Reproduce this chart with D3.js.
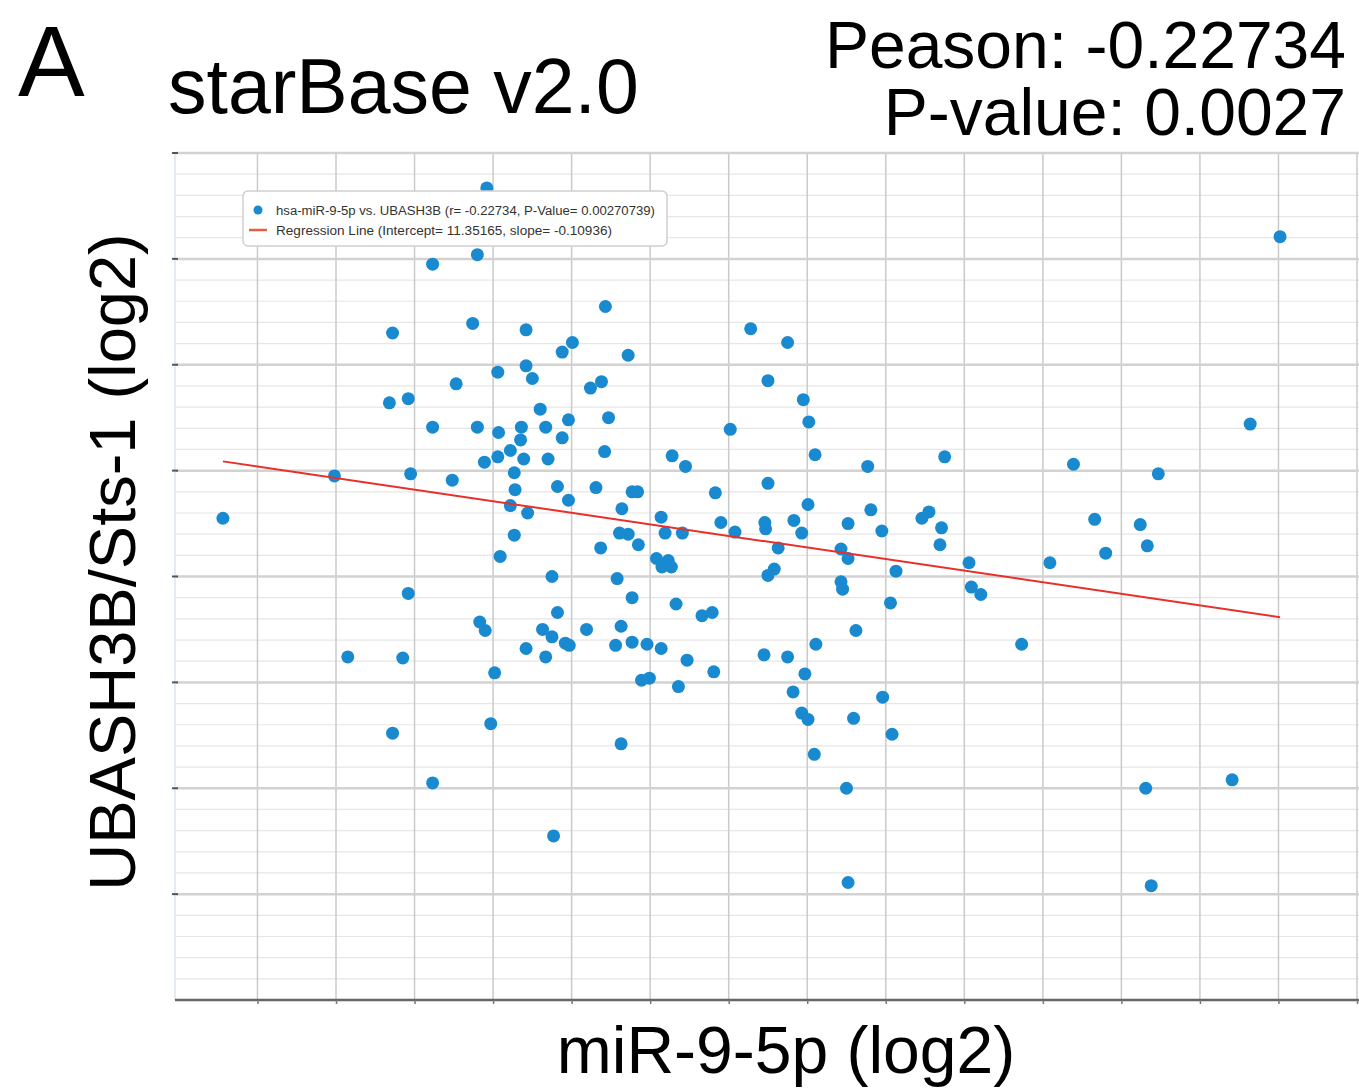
<!DOCTYPE html>
<html>
<head>
<meta charset="utf-8">
<script src="https://cdn.jsdelivr.net/npm/d3@7"></script>
<style>
body { margin: 0; background: #fff; }
text { font-family: "Liberation Sans", Arial, sans-serif; }
</style>
</head>
<body>
<svg class="chart" width="1359" height="1092"></svg>
<script>
"use strict";
// miR-9-5p (log2) values
var xVals = [14.92,14.80,14.23,14.74,15.42,13.72,16.01,15.88,15.06,15.42,15.50,14.53,13.92,13.68,15.60,15.96,
	14.23,14.80,15.36,15.67,15.07,15.35,15.88,15.22,15.06,15.39,14.89,15.70,13.95,12.98,14.48,15.27,15.28,15.82,
	15.96,15.22,15.44,11.56,15.27,15.09,16.43,16.72,18.28,18.75,18.50,16.38,16.24,18.95,19.02,16.47,18.02,16.42,
	19.10,17.28,17.45,19.77,20.75,16.31,18.50,16.77,16.84,17.83,19.01,16.64,19.81,20.55,20.46,17.14,17.90,18.46,
	18.83,19.52,20.71,16.61,16.72,17.19,17.41,18.08,18.47,18.93,19.95,20.69,16.37,16.85,18.63,19.43,25.02,24.64,
	22.39,23.47,22.66,23.24,23.33,22.80,15.75,13.92,15.82,14.83,14.90,15.63,15.75,15.92,15.42,15.67,13.15,13.85,
	15.02,14.97,13.72,14.23,15.77,17.08,17.23,17.15,17.27,19.52,18.50,18.58,20.13,16.58,19.43,19.45,16.77,17.33,
	20.06,17.66,17.79,16.19,16.63,19.62,15.97,16.56,16.77,16.96,17.14,19.11,18.45,18.75,17.47,17.81,18.97,16.89,
	16.99,17.36,18.82,19.96,18.93,19.01,19.59,20.08,16.63,19.09,19.50,19.52,21.06,22.09,21.09,21.21,21.73,24.41,
	23.31,23.38];
// UBASH3B/Sts-1 (log2) values
var yVals = [12.67,12.04,11.95,11.39,11.33,11.30,11.21,11.12,10.93,10.99,10.87,10.82,10.68,10.64,10.58,10.48,
	10.41,10.41,10.41,10.41,10.36,10.29,10.31,10.19,10.13,10.11,10.08,10.11,9.97,9.95,9.91,9.98,9.82,9.85,
	9.72,9.67,9.60,9.55,9.39,9.19,11.55,11.09,11.34,11.21,10.85,10.84,10.78,10.67,10.46,10.50,10.39,10.18,
	10.15,10.14,10.04,10.04,10.13,9.84,9.88,9.80,9.80,9.79,9.68,9.64,9.63,9.61,9.55,9.56,9.51,9.51,
	9.53,9.50,9.46,9.41,9.40,9.41,9.41,9.42,9.45,9.41,9.43,9.30,9.27,9.30,9.27,9.26,12.21,10.44,
	10.06,9.97,9.54,9.49,9.29,9.22,9.00,8.84,8.66,8.57,8.49,8.50,8.43,8.37,8.32,8.24,8.24,8.23,
	8.09,7.61,7.52,7.05,6.55,9.17,9.15,9.09,9.09,9.17,9.01,9.07,9.05,8.98,8.95,8.88,8.80,8.74,
	8.75,8.63,8.66,8.50,8.53,8.49,8.35,8.35,8.38,8.36,8.32,8.36,8.26,8.24,8.21,8.10,8.08,8.02,
	8.04,7.96,7.91,7.86,7.71,7.65,7.66,7.51,7.42,7.32,7.00,6.11,9.13,9.13,8.90,8.83,8.36,7.08,
	7.00,6.08];
var intercept = 11.35165;
var slope = -0.10936;
var xGridVals = [12,13,14,15,16,17,18,19,20,21,22,23,24,25,26];
var yMajorVals = [6,7,8,9,10,11,12,13];
var legendLabels = ["hsa-miR-9-5p vs. UBASH3B (r= -0.22734, P-Value= 0.00270739)",
	"Regression Line (Intercept= 11.35165, slope= -0.10936)"];

var svg = d3.select(".chart");
var plotLeft = 175, plotRight = 1357, plotTop = 153, plotBottom = 1000;

var x = d3.scaleLinear().domain([10.95, 26]).range([plotLeft, plotRight]);
var y = d3.scaleLinear().domain([5, 13]).range([plotBottom, plotTop]);

svg.append("rect").attr("width", 1359).attr("height", 1092).attr("fill", "#fff");

// minor horizontal grid (every 0.2)
var yMinor = d3.range(5.2, 13, 0.2).filter(function(d) { return Math.abs(d - Math.round(d)) > 0.05; });
svg.append("g").selectAll("line").data(yMinor).enter().append("line")
	.attr("x1", plotLeft).attr("x2", 1359)
	.attr("y1", function(d) { return y(d); }).attr("y2", function(d) { return y(d); })
	.attr("stroke", "#e6e6e6").attr("stroke-width", 1.2);

// vertical grid
svg.append("g").selectAll("line").data(xGridVals).enter().append("line")
	.attr("x1", function(d) { return x(d); }).attr("x2", function(d) { return x(d); })
	.attr("y1", plotTop).attr("y2", plotBottom)
	.attr("stroke", "#cacaca").attr("stroke-width", 1.5);

// major horizontal grid
svg.append("g").selectAll("line").data(yMajorVals).enter().append("line")
	.attr("x1", plotLeft).attr("x2", 1359)
	.attr("y1", function(d) { return y(d); }).attr("y2", function(d) { return y(d); })
	.attr("stroke", "#d2d2d2").attr("stroke-width", 2.5);

// left axis (faint) with small ticks
svg.append("line").attr("x1", plotLeft).attr("x2", plotLeft).attr("y1", plotTop).attr("y2", plotBottom)
	.attr("stroke", "#e4ebf3").attr("stroke-width", 2);
svg.append("g").selectAll("line").data(yMajorVals).enter().append("line")
	.attr("x1", plotLeft - 3).attr("x2", plotLeft + 3)
	.attr("y1", function(d) { return y(d); }).attr("y2", function(d) { return y(d); })
	.attr("stroke", "#555").attr("stroke-width", 2);

// bottom axis
var xAxis = d3.axisBottom(x).tickValues(xGridVals).tickSize(4).tickFormat("");
var gx = svg.append("g").attr("transform", "translate(0," + plotBottom + ")").call(xAxis);
gx.select(".domain").attr("stroke", "#666").attr("stroke-width", 2.5).attr("d", "M" + plotLeft + ",0H1359");
gx.selectAll(".tick line").attr("stroke", "#777").attr("stroke-width", 1.5);

// points
svg.append("g").selectAll("circle").data(xVals).enter().append("circle")
	.attr("cx", function(d) { return x(d); })
	.attr("cy", function(d, i) { return y(yVals[i]); })
	.attr("r", 6.5)
	.attr("fill", "#1a8ad0");

// regression line over the data range
var xMin = d3.min(xVals), xMax = d3.max(xVals);
svg.append("line")
	.attr("x1", x(xMin)).attr("y1", y(intercept + slope * xMin))
	.attr("x2", x(xMax)).attr("y2", y(intercept + slope * xMax))
	.attr("stroke", "#e8302a").attr("stroke-width", 2);

// legend
var lg = svg.append("g").attr("transform", "translate(243,191)");
lg.append("rect").attr("width", 424).attr("height", 55).attr("rx", 5)
	.attr("fill", "#fff").attr("stroke", "#cfcfcf").attr("stroke-width", 1.5);
lg.append("circle").attr("cx", 15).attr("cy", 19).attr("r", 4.5).attr("fill", "#1a8ad0");
lg.append("line").attr("x1", 6).attr("x2", 24).attr("y1", 39).attr("y2", 39)
	.attr("stroke", "#e06040").attr("stroke-width", 2.5);
lg.selectAll("text.lab").data(legendLabels).enter().append("text")
	.attr("class", "lab")
	.attr("x", 33)
	.attr("y", function(d, i) { return 24 + i * 20; })
	.attr("font-size", 12.5)
	.attr("fill", "#333")
	.attr("textLength", function(d, i) { return i == 0 ? 379 : 336; })
	.attr("lengthAdjust", "spacingAndGlyphs")
	.text(function(d) { return d; });

// titles and labels
svg.append("text").attr("x", 18).attr("y", 96).attr("font-size", 100).text("A");
svg.append("text").attr("x", 168).attr("y", 113).attr("font-size", 77).text("starBase v2.0");
svg.append("text").attr("x", 1346).attr("y", 68).attr("font-size", 66)
	.attr("text-anchor", "end").text("Peason: -0.22734");
svg.append("text").attr("x", 1346).attr("y", 135).attr("font-size", 66)
	.attr("text-anchor", "end").text("P-value: 0.0027");
svg.append("text").attr("transform", "translate(135,562) rotate(-90)")
	.attr("font-size", 65).attr("text-anchor", "middle").text("UBASH3B/Sts-1 (log2)");
svg.append("text").attr("x", 786).attr("y", 1073).attr("font-size", 66)
	.attr("text-anchor", "middle").text("miR-9-5p (log2)");
</script>
</body>
</html>
